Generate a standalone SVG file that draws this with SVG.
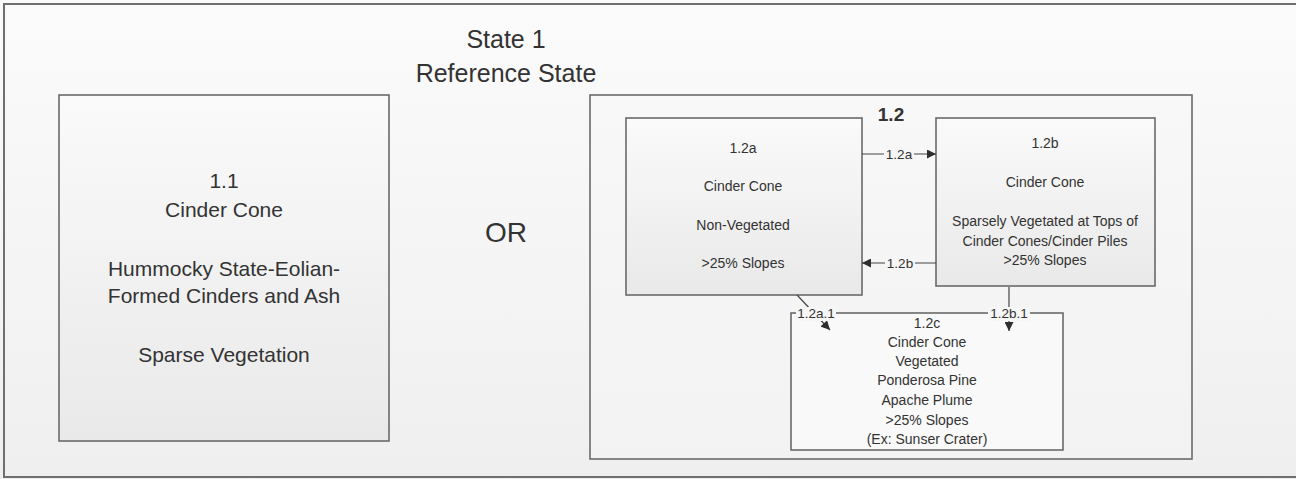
<svg xmlns="http://www.w3.org/2000/svg" width="1296" height="479" viewBox="0 0 1296 479">
<defs>
<linearGradient id="bg" x1="0" y1="0" x2="0" y2="1"><stop offset="0" stop-color="#fbfbfb"/><stop offset="1" stop-color="#efefef"/></linearGradient>
<linearGradient id="box" x1="0" y1="0" x2="0" y2="1"><stop offset="0" stop-color="#fafafa"/><stop offset="1" stop-color="#e9e9e9"/></linearGradient>
<linearGradient id="inner" x1="0" y1="0" x2="0" y2="1"><stop offset="0" stop-color="#f8f8f8"/><stop offset="1" stop-color="#f2f2f2"/></linearGradient>
<marker id="arr" viewBox="0 0 10 10" refX="10" refY="5" markerWidth="10" markerHeight="9" markerUnits="userSpaceOnUse" orient="auto"><path d="M0,0 L10,5 L0,10 z" fill="#2e2e2e"/></marker>
</defs>
<style>
text{font-family:"Liberation Sans",Arial,sans-serif;fill:#333;text-anchor:middle}
.big{font-size:21px}
.title{font-size:25px}
.sm{font-size:14px}
.lbl{font-size:13.5px}
.frame{fill:none;stroke:#6f6f6f;stroke-width:2}
.node{stroke:#6a6a6a;stroke-width:1.6}
.conn{stroke:#444;stroke-width:1.2;fill:none}
.lblbg{fill:#f6f6f6}
</style>
<rect x="0" y="0" width="1296" height="479" fill="url(#bg)"/>
<rect class="frame" x="4" y="4" width="1300" height="473"/>
<g id="title">
<text class="title" x="506" y="48">State 1</text>
<text class="title" x="506" y="82">Reference State</text>
</g>
<g id="n1_1">
<rect class="node" x="59" y="95" width="330" height="346" fill="url(#box)"/>
<text class="big" x="224" y="188">1.1</text>
<text class="big" x="224" y="217">Cinder Cone</text>
<text class="big" x="224" y="276">Hummocky State-Eolian-</text>
<text class="big" x="224" y="303">Formed Cinders and Ash</text>
<text class="big" x="224" y="362">Sparse Vegetation</text>
</g>
<g id="or"><text x="506" y="242" style="font-size:28px">OR</text></g>
<g id="n1_2">
<rect class="node" x="590" y="95" width="602" height="364" fill="url(#inner)"/>
<text x="891" y="121" style="font-size:19px;font-weight:bold">1.2</text>
</g>
<g id="n1_2a">
<rect class="node" x="626" y="118" width="236" height="177" fill="url(#box)"/>
<text class="sm" x="743" y="153">1.2a</text>
<text class="sm" x="743" y="191">Cinder Cone</text>
<text class="sm" x="743" y="230">Non-Vegetated</text>
<text class="sm" x="743" y="268">&gt;25% Slopes</text>
</g>
<g id="n1_2b">
<rect class="node" x="936" y="118" width="219" height="168" fill="url(#box)"/>
<text class="sm" x="1045" y="148">1.2b</text>
<text class="sm" x="1045" y="187">Cinder Cone</text>
<text class="sm" x="1045" y="226">Sparsely Vegetated at Tops of</text>
<text class="sm" x="1045" y="246">Cinder Cones/Cinder Piles</text>
<text class="sm" x="1045" y="265">&gt;25% Slopes</text>
</g>
<g id="n1_2c">
<rect class="node" x="791" y="313" width="272" height="137" fill="#f9f9f9"/>
<text class="sm" x="927" y="328">1.2c</text>
<text class="sm" x="927" y="347">Cinder Cone</text>
<text class="sm" x="927" y="366">Vegetated</text>
<text class="sm" x="927" y="385">Ponderosa Pine</text>
<text class="sm" x="927" y="405">Apache Plume</text>
<text class="sm" x="927" y="425">&gt;25% Slopes</text>
<text class="sm" x="927" y="444">(Ex: Sunser Crater)</text>
</g>
<g id="connectors">
<line class="conn" x1="862" y1="154" x2="936" y2="154" marker-end="url(#arr)"/>
<rect class="lblbg" x="884" y="146" width="30" height="15"/>
<text class="lbl" x="899" y="159">1.2a</text>
<line class="conn" x1="936" y1="263" x2="862" y2="263" marker-end="url(#arr)"/>
<rect class="lblbg" x="885" y="255" width="30" height="15"/>
<text class="lbl" x="900" y="268">1.2b</text>
<line class="conn" x1="797" y1="295" x2="830" y2="330" marker-end="url(#arr)"/>
<rect class="lblbg" x="796" y="307" width="40" height="14"/>
<text class="lbl" x="816" y="318">1.2a.1</text>
<line class="conn" x1="1009" y1="287" x2="1009" y2="331" marker-end="url(#arr)"/>
<rect class="lblbg" x="988" y="307" width="42" height="14"/>
<text class="lbl" x="1009" y="318">1.2b.1</text>
</g>
</svg>
